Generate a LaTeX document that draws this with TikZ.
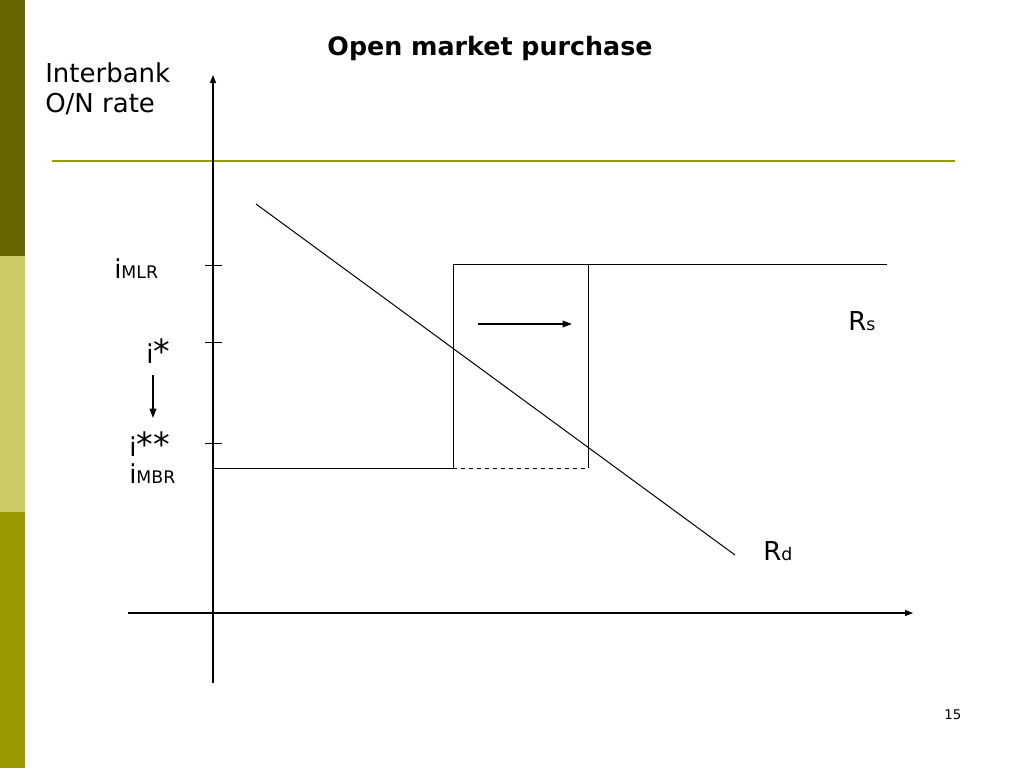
\documentclass[tikz,border=0pt]{standalone}
\usepackage{fontspec}
\setmainfont{DejaVu Sans}
\usepackage{tikz}
\usetikzlibrary{positioning,arrows.meta}

\definecolor{olivedark}{HTML}{666600}
\definecolor{olivelight}{HTML}{CCCC66}
\definecolor{olivemid}{HTML}{999900}

\newcommand{\bigast}{{\fontsize{25}{25}\selectfont *}}

\tikzset{
	lbl/.style={inner sep=0pt, anchor=base west, font=\fontsize{19.5}{23}\selectfont},
	curve/.style={draw, line width=0.75pt},
	axis/.style={draw, line width=0.9pt, -{Triangle[length=6pt,width=4.5pt]}},
	moveline/.style={draw, line width=1pt, -{Triangle[length=7pt,width=5pt]}}
}

\begin{document}
\begin{tikzpicture}[x=0.75pt, y=-0.75pt]
		\useasboundingbox (0,0) rectangle (1024,768);
		\fill[white] (0,0) rectangle (1024,768);
		% side bar
		\fill[olivedark] (0,0) rectangle (25,256);
		\fill[olivelight] (0,256) rectangle (25,512);
		\fill[olivemid] (0,512) rectangle (25,768);
		\draw[olivemid, line width=1.6pt] (52,161) -- (955,161);

		\draw
			(490,55) node [inner sep=0pt, anchor=base, font=\fontsize{19}{23}\selectfont\bfseries] (title) {Open market purchase}
			(45,82) node [lbl] (ylab) {Interbank}
			(45,112) node [lbl] (ylab2) {O/N rate}
			(114,278) node [lbl] (imlr) {i{\fontsize{13}{15}\selectfont MLR}}
			(146,363) node [lbl] (istar) {i\bigast}
			(129,456) node [lbl] (istar2) {i\bigast\bigast}
			(129,483) node [lbl] (imbr) {i{\fontsize{13}{15}\selectfont MBR}}
			(848,330) node [lbl] (rs) {R{\fontsize{13}{15}\selectfont s}}
			(763,560) node [lbl] (rd) {R{\fontsize{13}{15}\selectfont d}}
			(944,719) node [inner sep=0pt, anchor=base west, font=\fontsize{10}{12}\selectfont] (page) {15}
			;

		% axes
		\coordinate (ybot) at (213,683);
		\coordinate (ytop) at (213,75);
		\coordinate (xl) at (128,613);
		\coordinate (xr) at (913,613);
		\path[axis] (ybot) -- (ytop);
		\path[axis] (xl) -- (xr);
		\foreach \y in {265,342,443}
			\draw[line width=0.75pt] (205,\y) -- (222,\y);

		% supply of reserves
		\coordinate (s0) at (213,468);
		\coordinate (s1) at (453,468);
		\coordinate (s2) at (453,264);
		\coordinate (s3) at (887,264);
		\coordinate (t1) at (588,264);
		\coordinate (t2) at (588,468);
		\path[curve] (s0) -- (s1) -- (s2) -- (s3);
		\path[curve] (t1) -- (t2);
		\draw[dashed, line width=0.6pt] (s1) -- (t2);

		% demand for reserves
		\coordinate (d0) at (256,204);
		\coordinate (d1) at (735,555);
		\path[curve] (d0) -- (d1);

		% shifts
		\coordinate (a0) at (478,324);
		\coordinate (a1) at (572,324);
		\coordinate (b0) at (153,375);
		\coordinate (b1) at (153,418);
		\path[moveline] (a0) -- (a1);
		\path[moveline] (b0) -- (b1);
	\end{tikzpicture}
\end{document}
